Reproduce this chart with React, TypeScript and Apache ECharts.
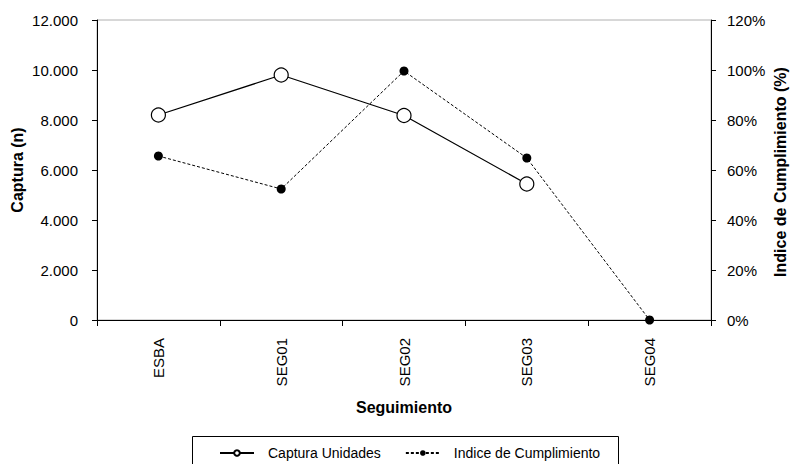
import React, { useEffect, useRef } from "react";
import * as echarts from "echarts";

const categories = ["ESBA", "SEG01", "SEG02", "SEG03", "SEG04"];
const capturaUnidades: (number | null)[] = [8200, 9800, 8180, 5440, null];
const indiceCumplimiento: number[] = [65.6, 52.4, 99.6, 64.8, 0];

const FONT = "'Liberation Sans', Arial, sans-serif";

export default function App() {
  const ref = useRef<HTMLDivElement>(null);
  useEffect(() => {
    if (!ref.current) return;
    const chart = echarts.init(ref.current, null, { renderer: "svg" });
    const nameStyle = { fontFamily: FONT, fontSize: 16, fontWeight: "bold", color: "#000" };
    chart.setOption({
      animation: false,
      backgroundColor: "#fff",
      textStyle: { fontFamily: FONT, color: "#000" },
      grid: {
        left: 97,
        right: 79,
        top: 20,
        bottom: 144,
        show: true,
        borderColor: "#b0b0b0",
        borderWidth: 1,
      },
      legend: {
        left: 219,
        top: 446,
        padding: 0,
        itemGap: 24,
        itemWidth: 34,
        itemHeight: 7,
        textStyle: { fontFamily: FONT, fontSize: 14, color: "#000", padding: [0, 0, 0, 9] },
        data: ["Captura Unidades", "Indice de Cumplimiento"],
      },
      graphic: [
        {
          type: "rect",
          shape: { x: 192.5, y: 436.5, width: 426, height: 40 },
          style: { fill: "none", stroke: "#000", lineWidth: 1 },
          silent: true,
        },
        {
          type: "text",
          x: 780,
          y: 172,
          rotation: Math.PI / 2,
          silent: true,
          style: {
            text: "Indice de Cumplimiento (%)",
            fontFamily: FONT,
            fontSize: 16,
            fontWeight: "bold",
            fill: "#000",
            align: "center",
            verticalAlign: "middle",
          },
        },
      ],
      xAxis: {
        type: "category",
        data: categories,
        boundaryGap: true,
        name: "Seguimiento",
        nameLocation: "middle",
        nameGap: 79,
        nameMoveOverlap: false,
        nameTextStyle: nameStyle,
        axisLine: { lineStyle: { color: "#000", width: 1 } },
        axisTick: { show: true, length: 6, lineStyle: { color: "#000" } },
        axisLabel: { rotate: 90, margin: 18, fontFamily: FONT, fontSize: 15, color: "#000" },
        splitLine: { show: false },
      },
      yAxis: [
        {
          type: "value",
          min: 0,
          max: 12000,
          interval: 2000,
          position: "left",
          name: "Captura (n)",
          nameLocation: "middle",
          nameGap: 72,
          nameMoveOverlap: false,
          nameTextStyle: nameStyle,
          axisLine: { show: true, lineStyle: { color: "#000" } },
          axisTick: { show: true, length: 5, lineStyle: { color: "#000" } },
          axisLabel: {
            fontFamily: FONT,
            fontSize: 15,
            color: "#000",
            margin: 19,
            formatter: (v: number) => (v >= 1000 ? `${Math.floor(v / 1000)}.${String(v % 1000).padStart(3, "0")}` : String(v)),
          },
          splitLine: { show: false },
        },
        {
          type: "value",
          min: 0,
          max: 120,
          interval: 20,
          position: "right",
          axisLine: { show: true, lineStyle: { color: "#000" } },
          axisTick: { show: true, length: 5, inside: false, lineStyle: { color: "#000" } },
          axisLabel: {
            fontFamily: FONT,
            fontSize: 15,
            color: "#000",
            margin: 16,
            formatter: (v: number) => `${v}%`,
          },
          splitLine: { show: false },
        },
      ],
      series: [
        {
          name: "Captura Unidades",
          type: "line",
          yAxisIndex: 0,
          data: capturaUnidades,
          symbol: "circle",
          symbolSize: 14,
          lineStyle: { color: "#000", width: 1.3, type: "solid" },
          itemStyle: { color: "#fff", borderColor: "#000", borderWidth: 1.2 },
          z: 3,
        },
        {
          name: "Indice de Cumplimiento",
          type: "line",
          yAxisIndex: 1,
          data: indiceCumplimiento,
          symbol: "circle",
          symbolSize: 9,
          lineStyle: { color: "#000", width: 1, type: [3, 2] },
          itemStyle: { color: "#000", borderColor: "#000", borderWidth: 0 },
          z: 4,
        },
      ],
    });
    return () => chart.dispose();
  }, []);
  return (
    <div
      ref={ref}
      style={{ position: "fixed", left: 0, top: 0, width: 790, height: 464 }}
    />
  );
}
